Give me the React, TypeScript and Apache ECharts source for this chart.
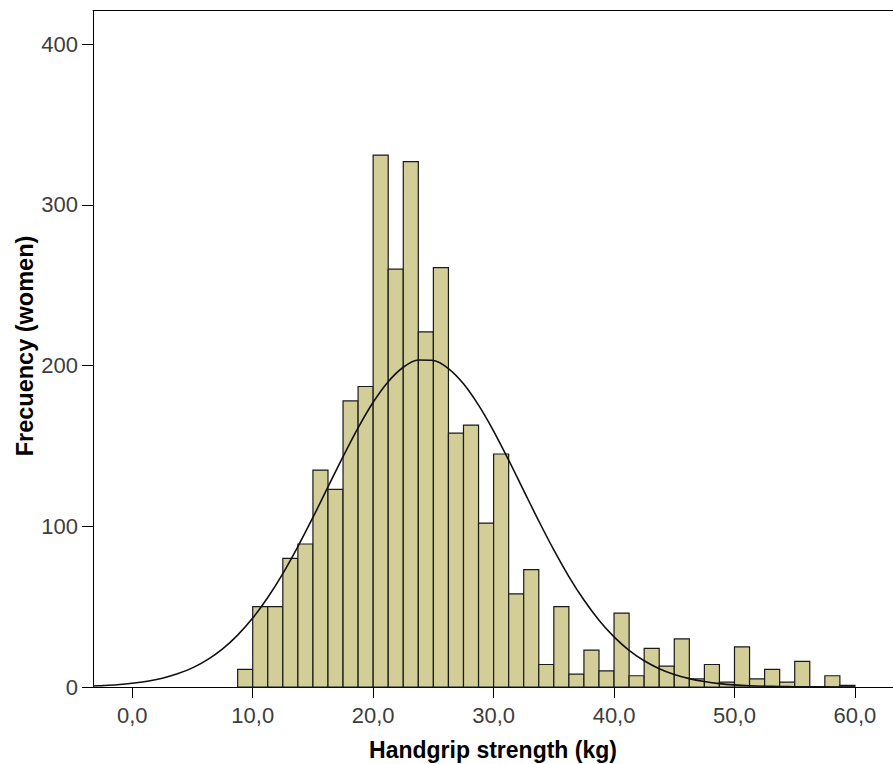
import React, { useEffect, useRef } from "react";
import * as echarts from "echarts";

// Histogram: bins of 1.25 kg starting at 8.75 kg
const binWidth = 1.25;
const firstBinStart = 8.75;
const counts = [
  11, 50, 50, 80, 89, 135, 123, 178, 187, 331, 260, 327, 221, 261, 158, 163,
  102, 145, 58, 73, 14, 50, 8, 23, 10, 46, 7, 24, 13, 30, 5, 14, 3, 25, 5, 11,
  3, 16, 0, 7, 1,
];

// Fitted normal curve (every 1.25 kg)
const curveX = [
  -3.25, -2.5, -1.25, 0, 1.25, 2.5, 3.75, 5, 6.25, 7.5, 8.75, 10, 11.25, 12.5,
  13.75, 15, 16.25, 17.5, 18.75, 20, 21.25, 22.5, 23.75, 25, 26.25, 27.5, 28.75,
  30, 31.25, 32.5, 33.75, 35, 36.25, 37.5, 38.75, 40, 41.25, 42.5, 43.75, 45,
  46.25, 47.5, 48.75, 50, 51.25, 52.5, 53.75, 55, 56.25, 57.5, 58.75, 60,
];
const curveY = [
  0.6, 0.85, 1.4, 2.3, 3.6, 5.5, 8.2, 11.9, 17.0, 23.7, 32.3, 42.9, 55.7, 70.6,
  87.4, 105.5, 124.5, 143.4, 161.3, 177.2, 190.0, 199.0, 203.5, 203.2, 198.2,
  188.7, 175.4, 159.3, 141.2, 122.2, 103.3, 85.3, 68.7, 54.1, 41.6, 31.2, 22.8,
  16.3, 11.4, 7.8, 5.2, 3.4, 2.1, 1.3, 0.8, 0.5, 0.3, 0.2, 0.1, 0.05, 0.03, 0.02,
];

const xTickValues = [0, 10, 20, 30, 40, 50, 60];
const yTickValues = [0, 100, 200, 300, 400];

const xTitle = "Handgrip strength (kg)";
const yTitle = "Frecuency (women)";

const FONT = "'Liberation Sans', Arial, sans-serif";

export default function App() {
  const ref = useRef<HTMLDivElement>(null);

  useEffect(() => {
    document.body.style.margin = "0";
    if (!ref.current) return;
    const chart = echarts.init(ref.current, undefined, { renderer: "svg" });

    const histData = counts.map((c, i) => {
      const start = firstBinStart + i * binWidth;
      return [start, start + binWidth, c];
    });
    const curveData = curveX.map((x, i) => [x, curveY[i]]);

    const xMin = -3.26;
    const xMax = 63.16;

    chart.setOption({
      animation: false,
      backgroundColor: "#ffffff",
      grid: { left: 93, right: 0, top: 10.5, bottom: 77, containLabel: false },
      xAxis: [
        {
          type: "value",
          position: "bottom",
          min: xMin,
          max: xMax,
          axisLine: { show: true, onZero: false, lineStyle: { color: "#000", width: 1 } },
          axisTick: {
            show: true,
            inside: false,
            length: 11,
            customValues: xTickValues,
            lineStyle: { color: "#000", width: 1 },
          },
          axisLabel: {
            customValues: xTickValues,
            formatter: (v: number) => v.toFixed(1).replace(".", ","),
            fontSize: 22,
            fontFamily: FONT,
            color: "#3d3d3d",
            margin: 17,
          },
          splitLine: { show: false },
        },
        {
          type: "value",
          position: "top",
          min: xMin,
          max: xMax,
          axisLine: { show: true, onZero: false, lineStyle: { color: "#000", width: 1 } },
          axisTick: { show: false },
          axisLabel: { show: false },
          splitLine: { show: false },
        },
      ],
      yAxis: {
        type: "value",
        position: "left",
        min: 0,
        max: 421,
        axisLine: { show: true, onZero: false, lineStyle: { color: "#000", width: 1 } },
        axisTick: {
          show: true,
          inside: false,
          length: 11,
          customValues: yTickValues,
          lineStyle: { color: "#000", width: 1 },
        },
        axisLabel: {
          customValues: yTickValues,
          fontSize: 22,
          fontFamily: FONT,
          color: "#3d3d3d",
          margin: 15,
        },
        splitLine: { show: false },
      },
      graphic: [
        {
          type: "text",
          x: 493,
          y: 749.5,
          style: {
            text: xTitle,
            textAlign: "center",
            textVerticalAlign: "middle",
            font: `bold 23px ${FONT}`,
            fill: "#000",
          },
        },
        {
          type: "text",
          x: 25,
          y: 346,
          rotation: Math.PI / 2,
          style: {
            text: yTitle,
            textAlign: "center",
            textVerticalAlign: "middle",
            font: `bold 23.5px ${FONT}`,
            fill: "#000",
          },
        },
      ],
      series: [
        {
          type: "custom",
          xAxisIndex: 0,
          yAxisIndex: 0,
          data: histData,
          encode: { x: [0, 1], y: 2 },
          renderItem: (params: any, api: any) => {
            const start = api.value(0);
            const end = api.value(1);
            const c = api.value(2);
            if (!c) return null;
            const p0 = api.coord([start, c]);
            const p1 = api.coord([end, 0]);
            return {
              type: "rect",
              shape: {
                x: p0[0],
                y: p0[1],
                width: p1[0] - p0[0],
                height: p1[1] - p0[1],
              },
              style: { fill: "#D3CE97", stroke: "#1a1a1a", lineWidth: 1.2 },
            };
          },
          z: 2,
        },
        {
          type: "line",
          xAxisIndex: 0,
          yAxisIndex: 0,
          data: curveData,
          smooth: 0.3,
          showSymbol: false,
          symbol: "none",
          lineStyle: { color: "#111", width: 1.6 },
          z: 3,
        },
      ],
    });

    return () => {
      chart.dispose();
    };
  }, []);

  return <div ref={ref} style={{ width: 893, height: 764 }} />;
}
